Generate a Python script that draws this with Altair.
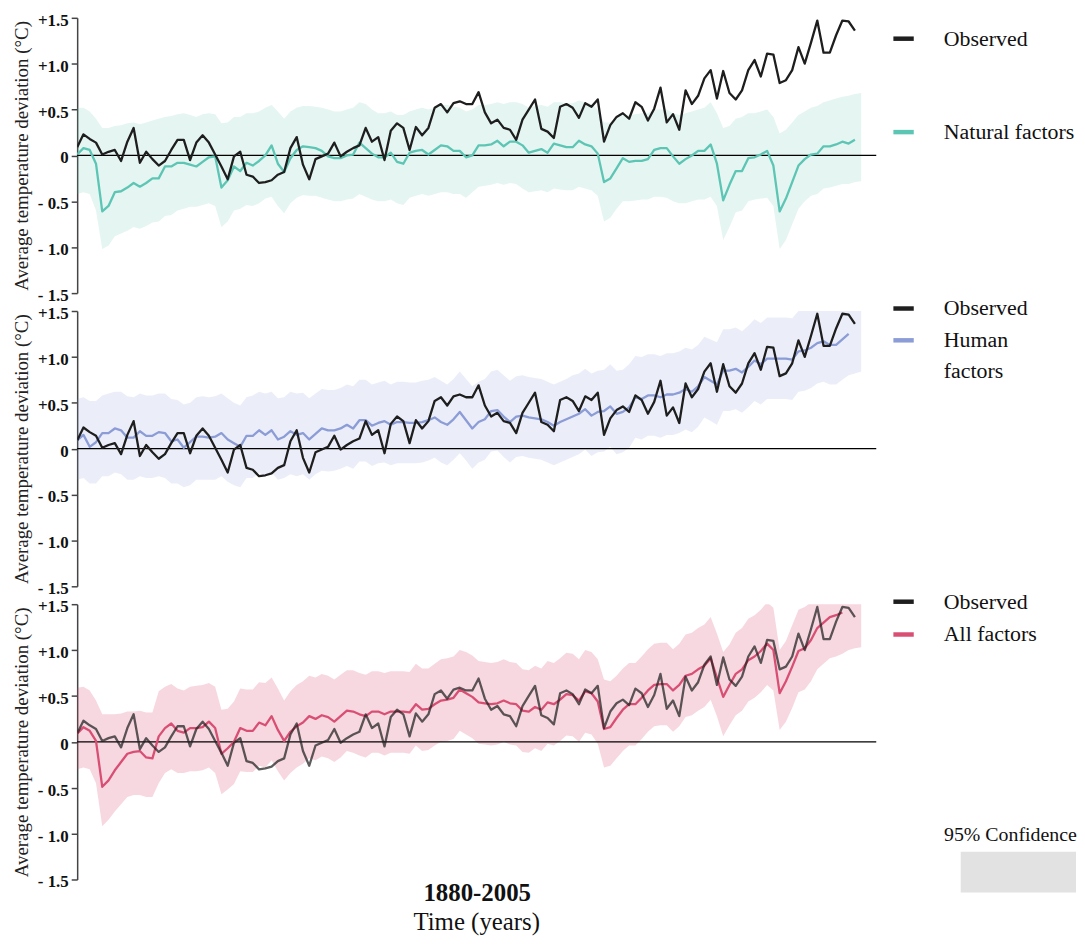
import altair as alt
import pandas as pd

FONT = "Liberation Serif"
FIRST_YEAR = 1880

# ---------------- data ----------------
observed = [0.09, 0.23, 0.18, 0.14, 0.01, 0.04, 0.06, -0.06, 0.15, 0.30,
            -0.08, 0.04, -0.04, -0.11, -0.06, 0.06, 0.17, 0.17, -0.05, 0.14,
            0.22, 0.14, 0.01, -0.12, -0.26, -0.01, 0.04, -0.21, -0.23, -0.30,
            -0.29, -0.27, -0.21, -0.18, 0.08, 0.20, -0.10, -0.26, -0.04, -0.01,
            0.02, 0.14, -0.01, 0.04, 0.08, 0.11, 0.30, 0.15, 0.20, -0.05,
            0.27, 0.35, 0.30, 0.06, 0.31, 0.22, 0.30, 0.52, 0.56, 0.47,
            0.57, 0.59, 0.56, 0.56, 0.69, 0.47, 0.35, 0.39, 0.30, 0.28,
            0.17, 0.39, 0.50, 0.61, 0.29, 0.26, 0.19, 0.53, 0.56, 0.52,
            0.41, 0.57, 0.53, 0.61, 0.15, 0.33, 0.42, 0.46, 0.40, 0.58,
            0.53, 0.38, 0.51, 0.74, 0.36, 0.45, 0.28, 0.71, 0.56, 0.65,
            0.84, 0.93, 0.62, 0.92, 0.68, 0.61, 0.71, 0.93, 1.04, 0.86,
            1.11, 1.10, 0.79, 0.82, 0.93, 1.18, 1.00, 1.23, 1.47, 1.12,
            1.12, 1.31, 1.47, 1.46, 1.36]

natural = [0.01, 0.08, 0.06, -0.09, -0.61, -0.55, -0.40, -0.39, -0.35, -0.30,
           -0.34, -0.30, -0.25, -0.25, -0.12, -0.12, -0.08, -0.08, -0.10, -0.12,
           -0.07, -0.02, -0.01, -0.35, -0.27, -0.12, -0.17, -0.08, -0.11, -0.06,
           0.00, 0.11, -0.09, -0.18, -0.03, 0.06, 0.10, 0.09, 0.08, 0.05,
           -0.01, -0.03, -0.03, 0.00, 0.01, 0.14, 0.08, 0.02, -0.02, -0.02,
           0.03, -0.07, -0.09, 0.03, 0.05, 0.06, 0.01, 0.06, 0.11, 0.10,
           0.05, 0.05, -0.02, 0.00, 0.11, 0.11, 0.12, 0.16, 0.10, 0.15,
           0.15, 0.11, 0.03, 0.05, 0.07, 0.03, 0.13, 0.11, 0.09, 0.09,
           0.16, 0.12, 0.10, 0.02, -0.29, -0.25, -0.14, -0.03, -0.07, -0.06,
           -0.06, -0.04, 0.06, 0.08, 0.08, -0.01, -0.09, -0.04, 0.00, 0.05,
           0.05, 0.12, -0.09, -0.49, -0.32, -0.17, -0.17, -0.03, -0.02, 0.01,
           0.05, -0.11, -0.61, -0.47, -0.29, -0.11, -0.04, 0.01, 0.02, 0.10,
           0.10, 0.12, 0.15, 0.13, 0.17]

human = [0.09, 0.15, 0.02, 0.07, 0.17, 0.17, 0.22, 0.20, 0.12, 0.12,
         0.19, 0.14, 0.14, 0.18, 0.17, 0.08, 0.10, 0.01, 0.07, 0.13,
         0.13, 0.12, 0.13, 0.17, 0.10, 0.06, 0.02, 0.14, 0.14, 0.20,
         0.15, 0.20, 0.10, 0.13, 0.19, 0.15, 0.17, 0.10, 0.16, 0.22,
         0.20, 0.20, 0.22, 0.26, 0.22, 0.31, 0.31, 0.25, 0.28, 0.30,
         0.26, 0.29, 0.29, 0.28, 0.28, 0.29, 0.31, 0.34, 0.29, 0.26,
         0.32, 0.40, 0.31, 0.22, 0.29, 0.32, 0.41, 0.42, 0.35, 0.29,
         0.35, 0.36, 0.34, 0.33, 0.32, 0.29, 0.25, 0.29, 0.32, 0.35,
         0.38, 0.43, 0.36, 0.40, 0.41, 0.46, 0.38, 0.40, 0.45, 0.56,
         0.54, 0.58, 0.58, 0.56, 0.59, 0.59, 0.61, 0.65, 0.62, 0.68,
         0.78, 0.74, 0.70, 0.85, 0.85, 0.87, 0.83, 0.89, 0.96, 0.92,
         0.98, 0.98, 0.98, 0.98, 0.97, 1.06, 1.07, 1.10, 1.15, 1.17,
         1.13, 1.13, 1.19, 1.25]

all_factors = [0.09, 0.16, 0.12, 0.01, -0.49, -0.42, -0.31, -0.22, -0.13, -0.11,
               -0.10, -0.17, -0.18, 0.06, 0.15, 0.20, 0.12, 0.10, 0.15, 0.15,
               0.16, 0.22, 0.15, -0.13, -0.07, 0.00, 0.15, 0.12, 0.12, 0.21,
               0.18, 0.28, 0.13, 0.01, 0.11, 0.17, 0.21, 0.28, 0.25, 0.29,
               0.27, 0.22, 0.28, 0.34, 0.33, 0.30, 0.28, 0.33, 0.33, 0.30,
               0.33, 0.33, 0.33, 0.32, 0.41, 0.35, 0.36, 0.41, 0.45, 0.46,
               0.48, 0.57, 0.53, 0.49, 0.43, 0.42, 0.41, 0.42, 0.45, 0.42,
               0.41, 0.34, 0.33, 0.38, 0.35, 0.43, 0.41, 0.46, 0.52, 0.51,
               0.45, 0.55, 0.53, 0.44, 0.14, 0.16, 0.26, 0.35, 0.41, 0.41,
               0.48, 0.56, 0.62, 0.63, 0.63, 0.56, 0.62, 0.72, 0.74, 0.79,
               0.83, 0.91, 0.70, 0.49, 0.62, 0.74, 0.79, 0.89, 0.93, 0.99,
               1.07, 1.00, 0.53, 0.66, 0.82, 0.99, 1.02, 1.11, 1.24, 1.30,
               1.36, 1.38, 1.41]

# 95% confidence bands (upper / lower edges), 1880-2005
natural_hi = [0.52, 0.52, 0.48, 0.40, 0.30, 0.30, 0.32, 0.33, 0.35, 0.36,
              0.34, 0.36, 0.38, 0.40, 0.42, 0.43, 0.45, 0.46, 0.44, 0.42,
              0.45, 0.46, 0.45, 0.35, 0.36, 0.42, 0.42, 0.46, 0.46, 0.48,
              0.52, 0.55, 0.48, 0.40, 0.48, 0.52, 0.54, 0.54, 0.53, 0.52,
              0.50, 0.48, 0.48, 0.50, 0.52, 0.58, 0.56, 0.50, 0.46, 0.46,
              0.48, 0.44, 0.44, 0.48, 0.50, 0.52, 0.50, 0.52, 0.55, 0.55,
              0.53, 0.52, 0.48, 0.50, 0.55, 0.55, 0.56, 0.58, 0.56, 0.58,
              0.58, 0.56, 0.52, 0.54, 0.55, 0.53, 0.58, 0.58, 0.57, 0.57,
              0.60, 0.58, 0.56, 0.50, 0.36, 0.36, 0.40, 0.44, 0.44, 0.45,
              0.46, 0.46, 0.50, 0.50, 0.50, 0.46, 0.44, 0.46, 0.48, 0.50,
              0.52, 0.58, 0.46, 0.30, 0.32, 0.40, 0.42, 0.46, 0.46, 0.48,
              0.50, 0.42, 0.24, 0.28, 0.36, 0.44, 0.48, 0.52, 0.54, 0.58,
              0.60, 0.62, 0.64, 0.65, 0.67, 0.68]
natural_lo = [-0.42, -0.40, -0.42, -0.60, -1.02, -0.98, -0.88, -0.85, -0.82, -0.78,
              -0.80, -0.77, -0.73, -0.72, -0.66, -0.65, -0.60, -0.58, -0.56, -0.56,
              -0.54, -0.52, -0.55, -0.78, -0.72, -0.60, -0.58, -0.54, -0.55, -0.52,
              -0.47, -0.45, -0.55, -0.63, -0.52, -0.46, -0.43, -0.44, -0.44, -0.46,
              -0.48, -0.50, -0.50, -0.48, -0.47, -0.42, -0.45, -0.48, -0.50, -0.50,
              -0.48, -0.52, -0.54, -0.46, -0.44, -0.42, -0.44, -0.42, -0.40, -0.40,
              -0.42, -0.42, -0.46, -0.40, -0.34, -0.33, -0.32, -0.30, -0.32, -0.30,
              -0.31, -0.36, -0.40, -0.39, -0.38, -0.40, -0.36, -0.37, -0.38, -0.38,
              -0.34, -0.36, -0.38, -0.44, -0.72, -0.68, -0.58, -0.50, -0.50, -0.49,
              -0.48, -0.48, -0.45, -0.45, -0.46, -0.50, -0.52, -0.52, -0.50, -0.48,
              -0.48, -0.45, -0.55, -0.92, -0.78, -0.62, -0.60, -0.50, -0.48, -0.47,
              -0.46, -0.55, -1.02, -0.92, -0.75, -0.58, -0.50, -0.44, -0.42, -0.36,
              -0.35, -0.33, -0.31, -0.31, -0.29, -0.28]

human_hi = [0.54, 0.56, 0.52, 0.52, 0.58, 0.60, 0.62, 0.62, 0.57, 0.56,
            0.60, 0.58, 0.58, 0.60, 0.60, 0.54, 0.53, 0.48, 0.50, 0.56,
            0.57, 0.56, 0.57, 0.60, 0.55, 0.50, 0.47, 0.56, 0.58, 0.62,
            0.60, 0.62, 0.55, 0.56, 0.62, 0.60, 0.61, 0.55, 0.60, 0.65,
            0.64, 0.64, 0.66, 0.70, 0.68, 0.75, 0.75, 0.70, 0.72, 0.74,
            0.70, 0.73, 0.73, 0.72, 0.72, 0.74, 0.75, 0.78, 0.74, 0.70,
            0.76, 0.84, 0.76, 0.68, 0.73, 0.76, 0.84, 0.86, 0.80, 0.74,
            0.79, 0.80, 0.78, 0.77, 0.76, 0.73, 0.70, 0.73, 0.76, 0.80,
            0.82, 0.87, 0.82, 0.85, 0.86, 0.92, 0.85, 0.86, 0.92, 1.01,
            1.00, 1.03, 1.03, 1.01, 1.04, 1.04, 1.06, 1.10, 1.08, 1.13,
            1.22, 1.19, 1.16, 1.30, 1.30, 1.32, 1.28, 1.34, 1.41, 1.37,
            1.43, 1.43, 1.43, 1.43, 1.42, 1.50, 1.51, 1.52, 1.52, 1.52,
            1.52, 1.52, 1.52, 1.52, 1.52, 1.52]
human_lo = [-0.34, -0.32, -0.38, -0.38, -0.30, -0.30, -0.26, -0.28, -0.34, -0.34,
            -0.30, -0.32, -0.32, -0.30, -0.32, -0.38, -0.38, -0.42, -0.40, -0.34,
            -0.34, -0.34, -0.34, -0.30, -0.36, -0.40, -0.42, -0.32, -0.32, -0.26,
            -0.30, -0.26, -0.34, -0.32, -0.28, -0.30, -0.28, -0.34, -0.28, -0.24,
            -0.25, -0.24, -0.22, -0.19, -0.22, -0.14, -0.14, -0.19, -0.16, -0.15,
            -0.18, -0.16, -0.16, -0.16, -0.16, -0.15, -0.13, -0.10, -0.15, -0.18,
            -0.12, -0.05, -0.13, -0.22, -0.15, -0.12, -0.03, -0.02, -0.09, -0.15,
            -0.09, -0.08, -0.10, -0.11, -0.12, -0.15, -0.18, -0.15, -0.12, -0.09,
            -0.06, -0.01, -0.08, -0.04, -0.03, 0.02, -0.06, -0.04, 0.01, 0.12,
            0.10, 0.14, 0.14, 0.12, 0.15, 0.15, 0.17, 0.21, 0.18, 0.24,
            0.34, 0.30, 0.26, 0.41, 0.41, 0.43, 0.39, 0.45, 0.52, 0.48,
            0.54, 0.54, 0.54, 0.54, 0.53, 0.62, 0.63, 0.66, 0.71, 0.73,
            0.70, 0.70, 0.75, 0.80, 0.82, 0.84]

all_hi = [0.59, 0.60, 0.56, 0.45, 0.30, 0.30, 0.30, 0.31, 0.33, 0.33,
          0.34, 0.32, 0.32, 0.55, 0.60, 0.63, 0.58, 0.56, 0.60, 0.61,
          0.62, 0.64, 0.60, 0.35, 0.36, 0.44, 0.58, 0.57, 0.57, 0.65,
          0.64, 0.70, 0.58, 0.45, 0.55, 0.62, 0.66, 0.72, 0.70, 0.74,
          0.72, 0.68, 0.73, 0.78, 0.78, 0.75, 0.73, 0.77, 0.77, 0.75,
          0.77, 0.77, 0.77, 0.76, 0.85, 0.80, 0.80, 0.85, 0.90, 0.91,
          0.93, 1.00, 0.98, 0.94, 0.88, 0.87, 0.86, 0.87, 0.90, 0.87,
          0.86, 0.79, 0.78, 0.83, 0.80, 0.88, 0.86, 0.91, 0.97, 0.96,
          0.90, 1.00, 0.98, 0.90, 0.68, 0.66, 0.72, 0.80, 0.86, 0.86,
          0.93, 1.01, 1.07, 1.08, 1.08, 1.01, 1.07, 1.17, 1.19, 1.24,
          1.28, 1.36, 1.18, 0.98, 1.06, 1.19, 1.24, 1.34, 1.38, 1.44,
          1.52, 1.46, 1.00, 1.10, 1.27, 1.44, 1.47, 1.52, 1.52, 1.52,
          1.52, 1.52, 1.52, 1.52, 1.52, 1.52]
all_lo = [-0.30, -0.28, -0.30, -0.45, -0.92, -0.85, -0.76, -0.68, -0.60, -0.58,
          -0.58, -0.60, -0.60, -0.45, -0.34, -0.30, -0.34, -0.34, -0.32, -0.32,
          -0.31, -0.28, -0.34, -0.57, -0.52, -0.46, -0.32, -0.33, -0.33, -0.26,
          -0.28, -0.20, -0.32, -0.42, -0.34, -0.28, -0.24, -0.18, -0.20, -0.16,
          -0.18, -0.22, -0.17, -0.10, -0.12, -0.15, -0.17, -0.12, -0.12, -0.15,
          -0.12, -0.12, -0.12, -0.13, -0.04, -0.10, -0.09, -0.04, 0.00, 0.01,
          0.03, 0.12, 0.08, 0.04, -0.02, -0.03, -0.04, -0.03, 0.00, -0.03,
          -0.04, -0.11, -0.12, -0.07, -0.10, -0.02, -0.04, 0.01, 0.07, 0.06,
          0.00, 0.10, 0.08, -0.02, -0.28, -0.26, -0.18, -0.10, -0.04, -0.04,
          0.03, 0.11, 0.17, 0.18, 0.18, 0.11, 0.17, 0.27, 0.29, 0.34,
          0.38, 0.46, 0.28, 0.06, 0.18, 0.29, 0.34, 0.44, 0.48, 0.54,
          0.62, 0.56, 0.13, 0.22, 0.37, 0.54, 0.57, 0.66, 0.79, 0.85,
          0.91, 0.93, 0.96, 1.00, 1.02, 1.03]

tick_values = [-1.5, -1.0, -0.5, 0, 0.5, 1.0, 1.5]
tick_labels = ["- 1.5", "- 1.0", "- 0.5", "0", "+0.5", "+1.0", "+1.5"]

y_title = "Average temperature deviation (°C)"
x_title = "1880-2005"
x_subtitle = "Time (years)"
conf_label = "95% Confidence"

OBS_COLOR = "#1e1e1e"
NAT_COLOR = "#5cc5b4"
HUM_COLOR = "#8b9cd6"
ALL_COLOR = "#d94f74"

# ---------------- helpers ----------------
def years_for(vals):
    return list(range(FIRST_YEAR, FIRST_YEAR + len(vals)))


def line_df(name, vals):
    return pd.DataFrame({"year": years_for(vals), "value": vals, "series": name})


def band_df(hi, lo):
    return pd.DataFrame({"year": years_for(hi), "hi": hi, "lo": lo})


label_expr = "".join(
    f"datum.value == {v} ? '{l}' : " for v, l in zip(tick_values, tick_labels)
) + "''"

x_scale = alt.Scale(domain=[1880, 2007.4], nice=False, zero=False)
y_scale = alt.Scale(domain=[-1.5, 1.5], nice=False, zero=False)

y_axis = alt.Axis(
    values=tick_values, labelExpr=label_expr, grid=False,
    labelFont=FONT, labelFontWeight="bold", labelFontSize=17, labelColor="#111",
    labelPadding=3, labelOffset=2.5, tickSize=6, tickColor="#444", tickWidth=1.5,
    domainColor="#444", domainWidth=1.5,
    title=y_title, titleFont=FONT, titleFontWeight="normal", titleFontSize=19,
    titleColor="#222", titlePadding=6,
)

W, H = 804, 277


def panel(model_name, model_vals, model_color, hi, lo, band_opacity, legend_y, row_pad,
          obs_opacity=1.0, split_label=False, bottom=False):
    if bottom:
        x_axis = alt.Axis(title=x_title, labels=False, ticks=False, domain=False,
                          grid=False, titleFont=FONT, titleFontSize=25,
                          titleFontWeight="bold", titleColor="#111", titlePadding=1)
    else:
        x_axis = None

    legend_kwargs = dict(
        title=None, orient="none", legendX=819, legendY=legend_y,
        symbolType="stroke", symbolStrokeWidth=4.5, symbolSize=420,
        labelFont=FONT, labelFontSize=22, labelColor="#111", labelOffset=28,
        rowPadding=row_pad, labelLimit=300,
    )
    if split_label:
        legend_kwargs["labelExpr"] = "split(datum.label, ' ')"
    color = alt.Color(
        "series:N",
        scale=alt.Scale(domain=["Observed", model_name], range=[OBS_COLOR, model_color]),
        legend=alt.Legend(**legend_kwargs),
    )

    x = alt.X("year:Q", scale=x_scale, axis=x_axis)

    band = alt.Chart(band_df(hi, lo)).mark_area(
        color=model_color, opacity=band_opacity, clip=True
    ).encode(
        x=x,
        y=alt.Y("hi:Q", scale=y_scale, axis=y_axis),
        y2="lo:Q",
    )

    zero = alt.Chart(pd.DataFrame({"zero": [0]})).mark_rule(
        color="#000", strokeWidth=1.2
    ).encode(y=alt.Y("zero:Q", scale=y_scale))

    model = alt.Chart(line_df(model_name, model_vals)).mark_line(
        strokeWidth=2.3, strokeJoin="round", clip=True
    ).encode(x=x, y=alt.Y("value:Q", scale=y_scale), color=color)

    obs = alt.Chart(line_df("Observed", observed)).mark_line(
        strokeWidth=2.3, strokeJoin="round", strokeOpacity=obs_opacity, clip=True
    ).encode(x=x, y=alt.Y("value:Q", scale=y_scale), color=color)

    layers = [band, zero, model, obs]

    if bottom:
        conf = pd.DataFrame({"label": [conf_label]})
        swatch = alt.Chart(conf).mark_rect(color="#e2e2e2").encode(
            x=alt.value(889), x2=alt.value(1005), y=alt.value(249), y2=alt.value(290)
        )
        conf_text = alt.Chart(conf).mark_text(
            font=FONT, fontSize=20, color="#111", align="center", baseline="middle"
        ).encode(x=alt.value(939), y=alt.value(232), text="label:N")
        layers += [swatch, conf_text]

    ch = alt.layer(*layers).properties(width=W, height=H)
    if bottom:
        ch = ch.properties(title=alt.TitleParams(
            x_subtitle, orient="bottom", anchor="middle", font=FONT, fontSize=25,
            fontWeight="normal", color="#111", offset=5))
    return ch


p1 = panel("Natural factors", natural, NAT_COLOR, natural_hi, natural_lo, 0.17, 8.5, 70)
p2 = panel("Human factors", human, HUM_COLOR, human_hi, human_lo, 0.17, -15, 8,
           split_label=True)
p3 = panel("All factors", all_factors, ALL_COLOR, all_hi, all_lo, 0.22, -15, 9,
           obs_opacity=0.72, bottom=True)

chart = alt.vconcat(p1, p2, p3, spacing=18, bounds="flush").resolve_scale(
    color="independent"
).properties(
    padding={"left": 3.6, "top": 0, "right": 0, "bottom": 0},
    background="white",
).configure(
    style={"guide-label": {"lineHeight": 31}},
    view={"stroke": None},
)

chart.save("out.html", embed_options={"renderer": "svg", "actions": False})
